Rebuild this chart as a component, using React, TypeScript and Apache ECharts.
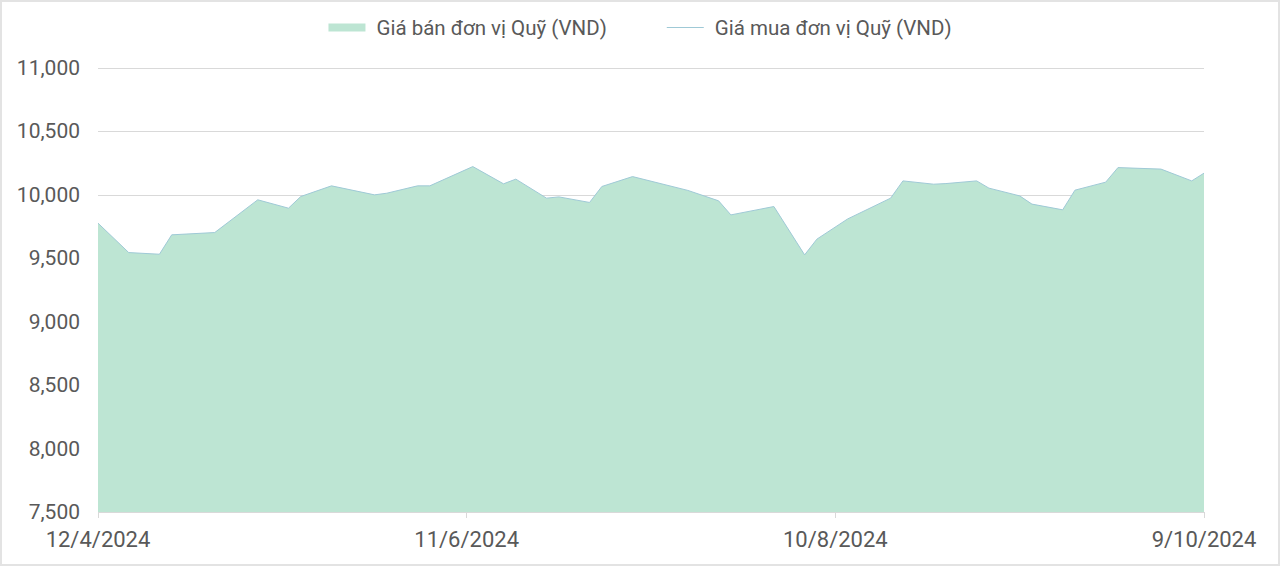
import { useEffect, useRef } from 'react';
import * as echarts from 'echarts';

const SELL_NAME = 'Giá bán đơn vị Quỹ (VND)';
const BUY_NAME = 'Giá mua đơn vị Quỹ (VND)';

const dates = [
  '12/4/2024', '17/4/2024', '22/4/2024', '24/4/2024', '1/5/2024', '8/5/2024',
  '13/5/2024', '15/5/2024', '20/5/2024', '27/5/2024', '29/5/2024', '3/6/2024',
  '5/6/2024', '12/6/2024', '17/6/2024', '19/6/2024', '24/6/2024', '26/6/2024',
  '1/7/2024', '3/7/2024', '8/7/2024', '17/7/2024', '22/7/2024', '24/7/2024',
  '31/7/2024', '5/8/2024', '7/8/2024', '12/8/2024', '19/8/2024', '21/8/2024',
  '26/8/2024', '28/8/2024', '2/9/2024', '4/9/2024', '9/9/2024', '11/9/2024',
  '16/9/2024', '18/9/2024', '23/9/2024', '25/9/2024', '2/10/2024', '7/10/2024',
  '9/10/2024',
];

const sellPrices = [
  9777, 9545, 9532, 9685, 9703, 9961,
  9895, 9987, 10071, 10000, 10013, 10071,
  10071, 10223, 10087, 10124, 9974, 9984,
  9940, 10066, 10144, 10035, 9953, 9842,
  9908, 9527, 9651, 9810, 9974, 10110,
  10084, 10089, 10110, 10053, 9992, 9927,
  9882, 10037, 10100, 10215, 10203, 10110,
  10171,
];

// the buy price line runs along the top edge of the sell area
const buyPrices = [...sellPrices];

const xTickLabels = ['12/4/2024', '11/6/2024', '10/8/2024', '9/10/2024'];
const yTicks = [7500, 8000, 8500, 9000, 9500, 10000, 10500, 11000];

const DAY = 86400000;
const toUtc = (s: string) => {
  const [d, m, y] = s.split('/').map(Number);
  return Date.UTC(y, m - 1, d);
};
const start = toUtc(dates[0]);
const dayOf = (s: string) => Math.round((toUtc(s) - start) / DAY);

export default function App() {
  const ref = useRef<HTMLDivElement>(null);

  useEffect(() => {
    if (!ref.current) return;
    const chart = echarts.init(ref.current, undefined, { renderer: 'svg' });
    const xTickDays = xTickLabels.map(dayOf);
    const labelColor = '#595959';

    chart.setOption({
      animation: false,
      textStyle: { fontFamily: 'Roboto' },
      legend: {
        top: 12,
        left: 'center',
        itemWidth: 37,
        itemHeight: 8,
        itemGap: 60,
        textStyle: {
          fontSize: 20.5,
          color: labelColor,
          fontFamily: 'Roboto',
          padding: [0, 0, 0, 6],
        },
        data: [
          { name: SELL_NAME, icon: 'rect' },
          { name: BUY_NAME, icon: 'path://M0,0L37,0L37,1L0,1Z' },
        ],
      },
      grid: { left: 98, right: 76, top: 68, bottom: 54 },
      xAxis: {
        type: 'value',
        min: 0,
        max: xTickDays[xTickDays.length - 1],
        interval: 60,
        splitLine: { show: false },
        axisLine: { show: false },
        axisTick: { show: true, length: 6, lineStyle: { color: '#d9d9d9' } },
        axisLabel: {
          fontSize: 22,
          color: labelColor,
          margin: 16,
          fontFamily: 'Roboto',
          formatter: (v: number) => {
            const i = xTickDays.indexOf(v);
            return i >= 0 ? xTickLabels[i] : '';
          },
        },
      },
      yAxis: {
        type: 'value',
        min: yTicks[0],
        max: yTicks[yTicks.length - 1],
        interval: 500,
        axisLine: { show: false },
        axisTick: { show: false },
        splitLine: { lineStyle: { color: '#d9d9d9', width: 1 } },
        axisLabel: {
          fontSize: 21,
          color: labelColor,
          margin: 18,
          fontFamily: 'Roboto',
          formatter: (v: number) => v.toLocaleString('en-US'),
        },
      },
      series: [
        {
          name: SELL_NAME,
          type: 'line',
          symbol: 'none',
          data: dates.map((d, i) => [dayOf(d), sellPrices[i]]),
          lineStyle: { width: 0, color: '#bde5d3' },
          itemStyle: { color: '#bde5d3' },
          areaStyle: { color: '#bde5d3', opacity: 1, origin: 'start' },
          z: 1,
        },
        {
          name: BUY_NAME,
          type: 'line',
          symbol: 'none',
          data: dates.map((d, i) => [dayOf(d), buyPrices[i]]),
          lineStyle: { width: 1, color: '#9fc9d6' },
          itemStyle: { color: '#9fc9d6' },
          z: 2,
        },
      ],
    });

    return () => chart.dispose();
  }, []);

  return (
    <div
      style={{
        position: 'absolute',
        left: 0,
        top: 0,
        width: 1280,
        height: 566,
        boxSizing: 'border-box',
        border: '2px solid #e3e3e3',
        background: '#fff',
      }}
    >
      <div ref={ref} style={{ position: 'absolute', left: -2, top: -2, width: 1280, height: 566 }} />
    </div>
  );
}
